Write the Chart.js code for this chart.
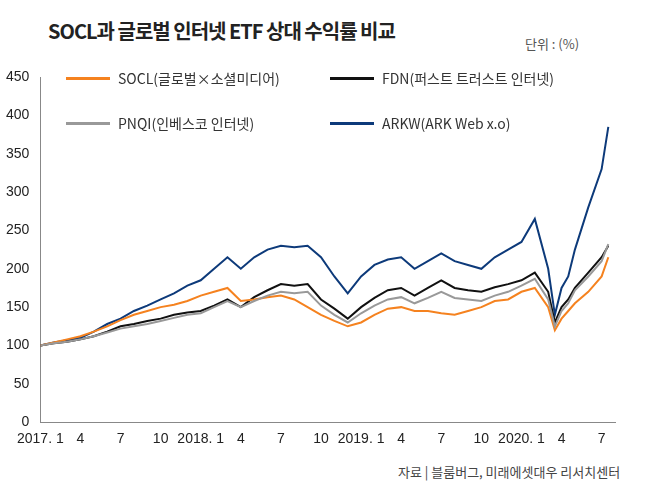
<!DOCTYPE html>
<html><head><meta charset="utf-8">
<script src="https://cdn.jsdelivr.net/npm/chart.js@4"></script>
<style>
body{margin:0;width:650px;height:485px;background:#fff;font-family:"Noto Sans CJK KR","Noto Sans",sans-serif;position:relative;overflow:hidden}
#wrap{position:absolute;left:0;top:0;width:650px;height:485px}
.t{position:absolute;color:#222}
.lg{position:absolute;font-size:14px;color:#333;display:flex;align-items:center}
.lg i{display:inline-block;width:44px;height:3px;margin-right:8px}
</style></head><body>
<div class="t" style="left:48px;top:16px;font-size:20px;font-weight:bold;letter-spacing:-1px">SOCL과 글로벌 인터넷 ETF 상대 수익률 비교</div>
<div class="t" style="left:525px;top:34px;font-size:13px;color:#555">단위 : (%)</div>
<div class="t" style="left:398px;top:462px;font-size:13px;color:#444">자료 | 블룸버그, 미래에셋대우 리서치센터</div>
<div id="wrap"><canvas id="chart"></canvas></div>
<div class="lg" style="left:66px;top:68px"><i style="background:#f5821f"></i>SOCL(글로벌×소셜미디어)</div>
<div class="lg" style="left:330px;top:68px"><i style="background:#111"></i>FDN(퍼스트 트러스트 인터넷)</div>
<div class="lg" style="left:66px;top:113px"><i style="background:#999"></i>PNQI(인베스코 인터넷)</div>
<div class="lg" style="left:330px;top:113px"><i style="background:#0d3a7a"></i>ARKW(ARK Web x.o)</div>
<script>
// months since 2017.1
const months = [0,1,2,3,4,5,6,7,8,9,10,11,12,13,14,15,16,17,18,19,20,21,22,23,24,25,26,27,28,29,30,31,32,33,34,35,36,37,38,38.5,39,39.5,40,41,42,42.5]
const socl = [100,104,108,112,118,125,133,140,145,150,153,158,165,170,175,158,160,163,165,160,150,140,132,125,130,140,148,150,145,145,142,140,145,150,158,160,170,175,150,120,135,145,155,170,190,215]
const fdn  = [100,103,105,108,112,118,125,128,132,135,140,143,145,152,160,150,163,172,180,178,180,160,148,135,150,162,172,175,165,175,185,175,172,170,176,180,185,195,170,130,150,160,175,195,215,230]
const pnqi = [100,103,105,108,112,117,122,125,128,132,136,140,142,150,158,150,158,165,170,168,170,152,140,130,142,152,160,163,155,162,170,162,160,158,165,170,178,187,160,125,145,155,172,190,210,232]
const arkw = [100,104,107,110,118,128,135,145,152,160,168,178,185,200,215,200,215,225,230,228,230,215,190,168,190,205,212,215,200,210,220,210,205,200,215,225,235,265,200,140,175,190,225,280,330,385]
const yTicks = [0,50,100,150,200,250,300,350,400,450]
const xTickLabels = {0:'2017. 1',3:'4',6:'7',9:'10',12:'2018. 1',15:'4',18:'7',21:'10',24:'2019. 1',27:'4',30:'7',33:'10',36:'2020. 1',39:'4',42:'7'}

const pts = arr => arr.map((v, i) => ({x: months[i], y: v}))
const ds = (label, arr, color) => ({label, data: pts(arr), borderColor: color, borderWidth: 2, pointRadius: 0, tension: 0})

new Chart(document.getElementById('chart').getContext('2d'), {
    type: 'line',
    data: {datasets: [
        ds('PNQI', pnqi, '#999999'),
        ds('SOCL', socl, '#f5821f'),
        ds('FDN', fdn, '#111111'),
        ds('ARKW', arkw, '#0d3a7a'),
    ]},
    options: {
        animation: false, responsive: true, maintainAspectRatio: false, events: [],
        layout: {padding: {top: 77, right: 35, bottom: 33, left: 0}},
        plugins: {legend: {display: false}, tooltip: {enabled: false}},
        scales: {
            x: {type: 'linear', min: 0, max: 43, afterBuildTicks: a => { a.ticks = Object.keys(xTickLabels).map(v => ({value: +v})) },
                grid: {display: false, drawTicks: true, tickLength: 5, tickColor: '#888'}, border: {color: '#888'},
                ticks: {callback: v => xTickLabels[v], color: '#222', font: {size: 14, family: 'Liberation Sans'}, maxRotation: 0, autoSkip: false, padding: 4}},
            y: {min: 0, max: 450, afterBuildTicks: a => { a.ticks = yTicks.map(v => ({value: v})) },
                grid: {display: false, tickLength: 5, tickColor: '#888'}, border: {color: '#888'},
                ticks: {color: '#222', font: {size: 14, family: 'Liberation Sans'}, padding: 6}}
        }
    }
})
</script></body></html>
